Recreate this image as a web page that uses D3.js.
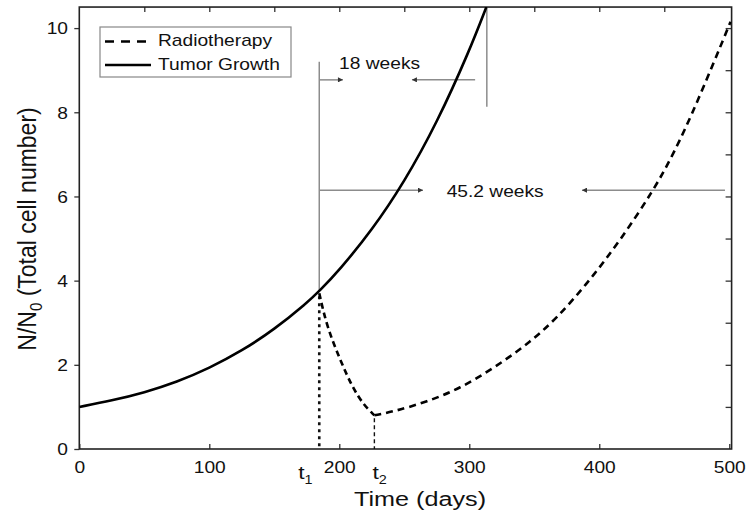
<!DOCTYPE html>
<html><head><meta charset="utf-8">
<script src="https://cdn.jsdelivr.net/npm/d3@7"></script>
<style>
body{margin:0;background:#fff}
svg{display:block}
text{font-family:"Liberation Sans",Arial,Helvetica,sans-serif;fill:#111}
</style>
</head><body>
<svg id="c" width="751" height="518"></svg>
<script>
// ---- data ----
const growthDays = [0, 25, 50, 75, 100, 125, 150, 175, 184.6, 200, 225, 250, 275, 300, 314];
const growthN    = [1, 1.15, 1.34, 1.59, 1.92, 2.33, 2.84, 3.47, 3.75, 4.25, 5.19, 6.34, 7.74, 9.45, 10.57];
const radioDays  = [184.6, 190.5, 200.8, 209.8, 218.7, 227, 241.8, 267.4, 293, 318.7, 344.4, 367.4, 393, 416, 441.8, 457, 475, 501];
const radioN     = [3.7, 2.9, 2.11, 1.48, 1.05, 0.8, 0.89, 1.12, 1.44, 1.92, 2.48, 3.1, 4.02, 4.95, 6.15, 7.0, 8.2, 10.15];
const xTickLabels = [0, 100, 200, 300, 400, 500];
const yTickLabels = [0, 2, 4, 6, 8, 10];
const t1 = 184.6, t2 = 227;
const legendLabels = ["Radiotherapy", "Tumor Growth"];
const intervalLabels = ["18 weeks", "45.2 weeks"];
const week18End = 313.5;   // end of the 18-week interval (days)
const week45End = 501;     // end of the 45.2-week interval (days)

// ---- layout ----
const SX = 1.2; // horizontal stretch of the original type
const svg = d3.select("#c");
const x = d3.scaleLinear().domain([0, 501.8]).range([79.3, 731.6]);
const y = d3.scaleLinear().domain([0, 10.5]).range([449, 7.05]);
const X0 = x.range()[0], X1 = x.range()[1], Y0 = y.range()[0], Y1 = y.range()[1];

const defs = svg.append("defs");
defs.append("clipPath").attr("id", "clip").append("rect")
  .attr("x", X0).attr("y", Y1).attr("width", X1 - X0).attr("height", Y0 - Y1);
defs.append("marker").attr("id", "ah").attr("viewBox", "0 0 10 10")
  .attr("refX", 10).attr("refY", 5).attr("markerWidth", 8).attr("markerHeight", 5)
  .attr("markerUnits", "userSpaceOnUse").attr("orient", "auto")
  .append("path").attr("d", "M0,0L10,5L0,10z").attr("fill", "#333");

// ---- axes ----
const tickStroke = "#333";
const gB = svg.append("g").attr("transform", `translate(0,${Y0})`)
  .call(d3.axisBottom(x).tickValues(xTickLabels).tickSizeInner(-5).tickSizeOuter(0).tickPadding(0));
gB.selectAll("text").attr("y", 24).attr("dy", null).attr("transform", `scale(${SX},1)`)
  .style("font-size", "16px");
svg.append("g").attr("transform", `translate(0,${Y1})`)
  .call(d3.axisTop(x).tickValues(d3.range(50, 500, 50)).tickSizeInner(-5).tickSizeOuter(0).tickFormat(""));
const gL = svg.append("g").attr("transform", `translate(${X0},0)`)
  .call(d3.axisLeft(y).tickValues(yTickLabels).tickSizeInner(5).tickSizeOuter(0).tickPadding(0));
gL.selectAll("text").attr("x", -11.3 / SX).attr("dy", "0.36em").attr("transform", `scale(${SX},1)`)
  .style("font-size", "16px");
svg.append("g").attr("transform", `translate(${X1},0)`)
  .call(d3.axisRight(y).tickValues(d3.range(1, 11)).tickSizeInner(-6).tickSizeOuter(0).tickFormat(""));
svg.selectAll(".domain").remove();
svg.selectAll(".tick line").attr("stroke", tickStroke).attr("stroke-width", 1.3);
svg.selectAll(".tick text").attr("fill", "#111").style("font-family", '"Liberation Sans",Arial,sans-serif');

// frame
svg.append("rect").attr("x", X0).attr("y", Y1).attr("width", X1 - X0).attr("height", Y0 - Y1)
  .attr("fill", "none").attr("stroke", "#222").attr("stroke-width", 1.6);

// t1 / t2 labels
function tLabel(px, sub, anchorShift) {
  const t = svg.append("text").attr("transform", `translate(${px + anchorShift},479) scale(${SX},1)`)
    .attr("text-anchor", "start");
  t.append("tspan").style("font-size", "19px").text("t");
  t.append("tspan").style("font-size", "12px").attr("dy", 5).text(sub);
}
tLabel(x(t1), "1", -21);
tLabel(x(t2), "2", -2);

// axis titles
svg.append("text").attr("transform", `translate(420,506) scale(${SX},1)`)
  .attr("text-anchor", "middle").style("font-size", "21px").text("Time (days)");
const yt = svg.append("text").attr("transform", `translate(36,229) scale(1.12,1) rotate(-90)`)
  .attr("text-anchor", "middle").style("font-size", "23px");
yt.append("tspan").text("N/N");
yt.append("tspan").attr("dy", 5).style("font-size", "15px").text("0");
yt.append("tspan").attr("dy", -5).text(" (Total cell number)");

// ---- annotations (gray) ----
const gray = "#8c8c8c";
const ann = svg.append("g").attr("stroke", gray).attr("stroke-width", 1.5).attr("fill", "none");
const growthAt = d3.scaleLinear().domain(growthDays).range(growthN);
ann.append("line").attr("x1", x(t1)).attr("x2", x(t1)).attr("y1", y(9.2)).attr("y2", y(growthAt(t1)));
ann.append("line").attr("x1", x(week18End)).attr("x2", x(week18End)).attr("y1", Y1).attr("y2", y(8.13));
function arrow(a, b, lv) {
  ann.append("line").attr("x1", x(a)).attr("x2", x(b)).attr("y1", y(lv)).attr("y2", y(lv))
    .attr("marker-end", "url(#ah)");
}
arrow(t1, 202.8, 8.77);
arrow(week18End - 9, 255.9, 8.77);
arrow(t1, 264.4, 6.15);
arrow(week45End - 4.3, 386.7, 6.15);
svg.append("text").attr("transform", `translate(${x(199.8)},${y(9.03)}) scale(${SX},1)`)
  .style("font-size", "16px").text(intervalLabels[0]);
svg.append("text").attr("transform", `translate(${x(282.6)},${y(5.99)}) scale(${SX},1)`)
  .style("font-size", "16px").text(intervalLabels[1]);

// ---- curves ----
const plot = svg.append("g").attr("clip-path", "url(#clip)");
const line = d3.line().x(d => x(d[0])).y(d => y(d[1])).curve(d3.curveBasis);
const growth = growthDays.map((d, i) => [d, growthN[i]]);
const radio = radioDays.map((d, i) => [d, radioN[i]]);
const iMin = d3.minIndex(radioN);

plot.append("line").attr("x1", x(t1)).attr("x2", x(t1)).attr("y1", y(radioN[0]) + 3).attr("y2", Y0)
  .attr("stroke", "#111").attr("stroke-width", 2.6).attr("stroke-dasharray", "3,4");
plot.append("line").attr("x1", x(t2)).attr("x2", x(t2)).attr("y1", y(radioN[iMin]) + 3).attr("y2", Y0)
  .attr("stroke", "#111").attr("stroke-width", 1.4).attr("stroke-dasharray", "4,3");

plot.append("path").attr("d", line(growth)).attr("fill", "none")
  .attr("stroke", "#000").attr("stroke-width", 2.6);
plot.append("path").attr("d", line(radio.slice(0, iMin + 1))).attr("fill", "none")
  .attr("stroke", "#000").attr("stroke-width", 2.6).attr("stroke-dasharray", "6,4");
plot.append("path").attr("d", line(radio.slice(iMin))).attr("fill", "none")
  .attr("stroke", "#000").attr("stroke-width", 2.6).attr("stroke-dasharray", "7,5");

// ---- legend ----
const lg = svg.append("g");
lg.append("rect").attr("x", 100).attr("y", 27).attr("width", 191).attr("height", 50)
  .attr("fill", "#fff").attr("stroke", "#888").attr("stroke-width", 1.2);
lg.append("line").attr("x1", 105).attr("x2", 151).attr("y1", 41.5).attr("y2", 41.5)
  .attr("stroke", "#000").attr("stroke-width", 2.4).attr("stroke-dasharray", "9,7");
lg.append("line").attr("x1", 105).attr("x2", 151).attr("y1", 65).attr("y2", 65)
  .attr("stroke", "#000").attr("stroke-width", 2.6);
lg.append("text").attr("transform", `translate(158,46) scale(${SX},1)`).style("font-size", "16px").text(legendLabels[0]);
lg.append("text").attr("transform", `translate(158,69.5) scale(${SX},1)`).style("font-size", "16px").text(legendLabels[1]);
</script>
</body></html>
